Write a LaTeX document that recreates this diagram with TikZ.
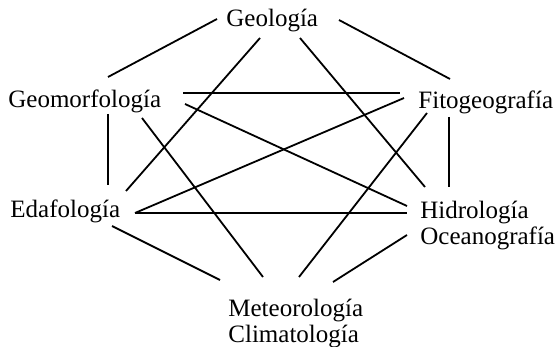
\documentclass[tikz,border=0pt]{standalone}
\usepackage{fontspec}
\setmainfont{Liberation Serif}
\usetikzlibrary{positioning}
\tikzset{
  disc/.style = {inner sep=0pt, anchor=base west, align=left,
                 font=\fontsize{12.5}{13}\selectfont},
  link/.style = {draw=black, line width=0.9pt},
}

\begin{document}
\begin{tikzpicture}[x=0.5pt, y=-0.5pt]
    \useasboundingbox (0,0) rectangle (557,347);

    % base west of a two-line node sits on its last line
    \node[disc] (geol) at (226, 27)  {Geología};
    \node[disc] (geom) at (8, 108)   {Geomorfología};
    \node[disc] (fito) at (418, 109) {Fitogeografía};
    \node[disc] (edaf) at (10, 218)  {Edafología};
    \node[disc] (hidr) at (420, 245) {Hidrología\\Oceanografía};
    \node[disc] (mete) at (228, 343) {Meteorología\\Climatología};

    \draw[link] ([shift={(-9,-8)}]geol.base west) -- ([shift={(100,-31)}]geom.base west);
    \draw[link] ([shift={(113,-7)}]geol.base west) -- ([shift={(32,-30)}]fito.base west);
    \draw[link] ([shift={(34,11)}]geol.base west) -- ([shift={(116,-27)}]edaf.base west);
    \draw[link] ([shift={(74,11)}]geol.base west) -- ([shift={(5,-58)}]hidr.base west);
    \draw[link] ([shift={(175,-15)}]geom.base west) -- ([shift={(-18,-16)}]fito.base west);
    \draw[link] ([shift={(177,-4)}]geom.base west) -- ([shift={(-13,-39)}]hidr.base west);
    \draw[link] ([shift={(134,10)}]geom.base west) -- ([shift={(35,-66)}]mete.base west);
    \draw[link] ([shift={(100,6)}]geom.base west) -- ([shift={(98,-33)}]edaf.base west);
    \draw[link] ([shift={(-14,-11)}]fito.base west) -- ([shift={(125,-5)}]edaf.base west);
    \draw[link] ([shift={(9,4)}]fito.base west) -- ([shift={(71,-66)}]mete.base west);
    \draw[link] ([shift={(31,8)}]fito.base west) -- ([shift={(29,-58)}]hidr.base west);
    \draw[link] ([shift={(125,-5)}]edaf.base west) -- ([shift={(-13,-32)}]hidr.base west);
    \draw[link] ([shift={(102,8)}]edaf.base west) -- ([shift={(-8,-63)}]mete.base west);
    \draw[link] ([shift={(-13,-10)}]hidr.base west) -- ([shift={(105,-61)}]mete.base west);
  \end{tikzpicture}
\end{document}
